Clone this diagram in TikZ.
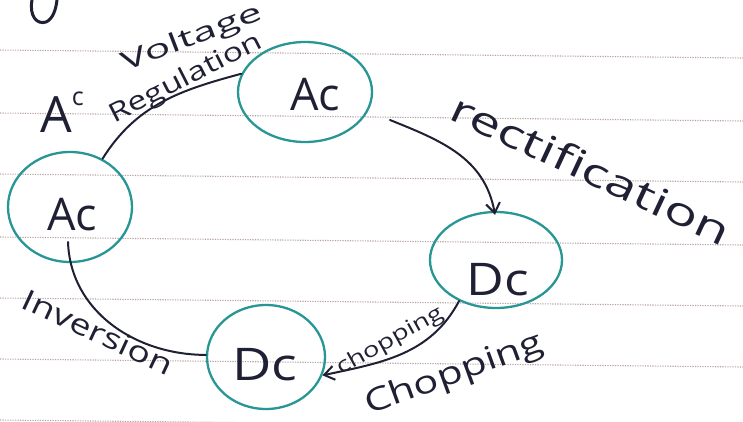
\documentclass[tikz,border=0pt]{standalone}
\usepackage{fontspec}
\setmainfont{Open Sans}
\usetikzlibrary{shapes.geometric,arrows.meta}
\definecolor{tealink}{RGB}{40,150,148}
\definecolor{ink}{RGB}{32,32,52}
\definecolor{ruleclr}{RGB}{185,160,160}
\begin{document}
\begin{tikzpicture}[x=1pt,y=1pt,
  circ/.style={draw=tealink, line width=2.3pt, ellipse, inner sep=0pt},
  nodetext/.style={text=ink, font=\fontsize{45}{50}\selectfont, inner sep=0pt},
  hw/.style={text=ink, inner sep=0pt, transform shape},
  conn/.style={draw=ink, line width=2pt, line cap=round},
  tip/.style={-{Straight Barb[length=10pt,width=14pt,line width=2pt]}}]
\useasboundingbox (0,0) rectangle (743,421);
\fill[white] (0,0) rectangle (743,421);
% ruled paper
\foreach \yy in {371,308,247,184,123,62,1}
  \draw[ruleclr, line width=1.1pt, dash pattern=on 1.2pt off 1.3pt] (0,\yy) -- (743,\yy-8);
% fragment at top
\draw[ink, line width=3pt, line cap=round] (32,421) .. controls (29,405) and (37,396) .. (46,399) .. controls (53,402) and (56,412) .. (57,421);
% circles
\node[circ, minimum width=124pt, minimum height=110pt] (acL) at (70,214) {};
\node[circ, minimum width=134pt, minimum height=100pt] (acT) at (305,329) {};
\node[circ, minimum width=132pt, minimum height=96pt] (dcR) at (496,161) {};
\node[circ, minimum width=118pt, minimum height=104pt] (dcB) at (266,64) {};
% node texts
\node[nodetext] (tacL) at (72,206) {Ac};
\node[nodetext] (tacT) at (315,326) {Ac};
\node[nodetext, xscale=1.15, transform shape] (tdcR) at (498,141) {Dc};
\node[nodetext, xscale=1.2, transform shape] (tdcB) at (265,56) {Dc};
% connectors
\coordinate (r1) at (390,301);
\coordinate (i1) at (68,179);
\draw[conn] (acL.56) to[out=58,in=195] (acT.164);
\draw[conn, tip, shorten >=-4pt] (r1) to[out=-22,in=100] (dcR.92);
\draw[conn] (i1) to[out=-88,in=180] (dcB.178);
\draw[conn, tip] (dcR.228) to[out=-118,in=12] (dcB.-18);
% labels
\node[hw, font=\fontsize{50}{54}\selectfont] (lac) at (62,309) {A\raisebox{0.55em}{\fontsize{25}{28}\selectfont c}};
\node[hw, font=\fontsize{26}{30}\selectfont, rotate=21, xscale=1.65] (lvolt) at (192,382) {Voltage};
\node[hw, font=\fontsize{26}{30}\selectfont, rotate=27, xscale=1.3] (lreg) at (186,342) {Regulation};
\node[hw, font=\fontsize{39}{43}\selectfont, rotate=-25, xscale=1.42] (lrect) at (591,252) {rectification};
\node[hw, font=\fontsize{29}{33}\selectfont, rotate=-25, xscale=1.3] (linv) at (98,89) {Inversion};
\node[hw, font=\fontsize{21}{25}\selectfont, rotate=29, xscale=1.3] (lchop) at (390,80) {chopping};
\node[hw, font=\fontsize{32}{36}\selectfont, rotate=20, xscale=1.3] (lChop) at (454,46) {Chopping};
\end{tikzpicture}
\end{document}
